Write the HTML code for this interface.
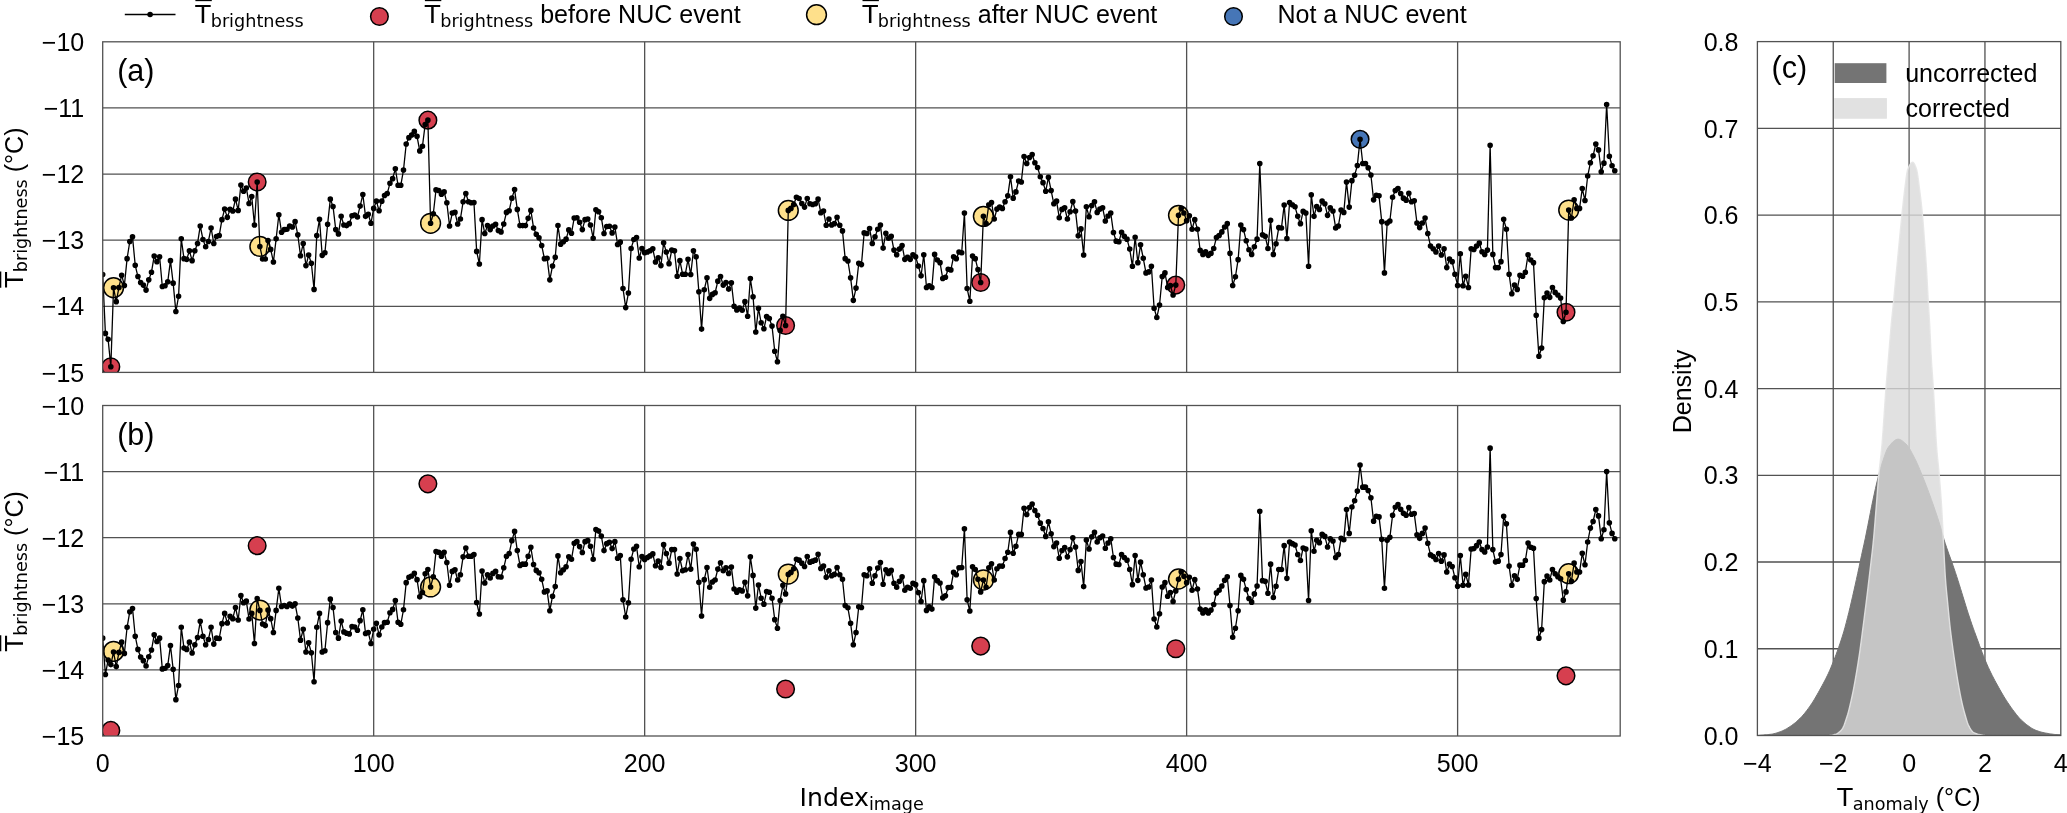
<!DOCTYPE html>
<html><head><meta charset="utf-8"><title>NUC correction</title><style>
html,body{margin:0;padding:0;background:#fff;}
svg{display:block;will-change:transform;}
text{fill:#000;}
.s{font-family:"Liberation Sans",sans-serif;font-size:25.05px;}
.d{font-family:"DejaVu Sans",sans-serif;font-size:25.2px;}
.sub{font-family:"DejaVu Sans",sans-serif;font-size:17.64px;}
</style></head><body>
<svg width="2067" height="813" viewBox="0 0 2067 813">
<rect x="0" y="0" width="2067" height="813" fill="#ffffff"/>
<defs>
<clipPath id="ca"><rect x="102.7" y="41.8" width="1517.50" height="330.60"/></clipPath>
<clipPath id="cb"><rect x="102.7" y="405.5" width="1517.50" height="330.50"/></clipPath>
<clipPath id="cc"><rect x="1757.4" y="41.6" width="303.40" height="693.90"/></clipPath>
</defs>
<path d="M373.68 41.8V372.4M644.66 41.8V372.4M915.65 41.8V372.4M1186.63 41.8V372.4M1457.61 41.8V372.4M102.7 107.92H1620.2M102.7 174.04H1620.2M102.7 240.16H1620.2M102.7 306.28H1620.2" stroke="#525252" stroke-width="1.3" fill="none"/>
<g clip-path="url(#ca)" stroke="#000" stroke-width="1.5">
<circle cx="110.83" cy="366.78" r="8.8" fill="#d63f4f"/>
<circle cx="257.16" cy="181.97" r="8.8" fill="#d63f4f"/>
<circle cx="427.88" cy="120.15" r="8.8" fill="#d63f4f"/>
<circle cx="785.58" cy="325.45" r="8.8" fill="#d63f4f"/>
<circle cx="980.68" cy="282.48" r="8.8" fill="#d63f4f"/>
<circle cx="1175.79" cy="285.12" r="8.8" fill="#d63f4f"/>
<circle cx="1566.00" cy="312.23" r="8.8" fill="#d63f4f"/>
<circle cx="113.54" cy="287.77" r="9.9" fill="#fee08b"/>
<circle cx="259.87" cy="246.44" r="9.9" fill="#fee08b"/>
<circle cx="430.59" cy="223.30" r="9.9" fill="#fee08b"/>
<circle cx="788.28" cy="210.41" r="9.9" fill="#fee08b"/>
<circle cx="983.39" cy="216.36" r="9.9" fill="#fee08b"/>
<circle cx="1178.50" cy="215.37" r="9.9" fill="#fee08b"/>
<circle cx="1568.71" cy="210.08" r="9.9" fill="#fee08b"/>
<circle cx="1360.06" cy="139.33" r="8.8" fill="#4676b7"/>
</g>
<g clip-path="url(#ca)">
<polyline points="102.70,274.54 105.41,333.39 108.12,339.34 110.83,366.78 113.54,287.77 116.25,301.65 118.96,287.44 121.67,275.20 124.38,285.45 127.09,258.67 129.80,241.48 132.51,236.85 135.22,265.29 137.93,276.53 140.64,282.48 143.35,285.12 146.06,290.08 148.77,279.83 151.48,272.23 154.19,256.03 156.90,261.65 159.61,256.69 162.32,286.44 165.03,285.78 167.74,281.82 170.45,260.66 173.16,283.14 175.87,311.57 178.57,296.36 181.28,238.84 183.99,258.67 186.70,259.33 189.41,250.74 192.12,260.66 194.83,250.74 197.54,243.47 200.25,225.94 202.96,239.50 205.67,246.77 208.38,241.48 211.09,227.93 213.80,243.47 216.51,236.52 219.22,235.53 221.93,219.66 224.64,209.08 227.35,217.35 230.06,209.41 232.77,211.07 235.48,199.17 238.19,210.41 240.90,184.95 243.61,191.23 246.32,187.93 249.03,203.46 251.74,196.52 254.45,224.95 257.16,181.97 259.87,246.44 262.58,259.00 265.29,259.00 268.00,240.49 270.71,249.42 273.42,261.98 276.13,238.84 278.84,214.70 281.55,232.23 284.26,229.58 286.97,229.25 289.68,225.94 292.39,226.94 295.10,221.65 297.81,234.87 300.52,255.70 303.23,243.47 305.94,265.62 308.65,255.04 311.36,263.30 314.07,289.42 316.78,235.53 319.49,219.33 322.20,255.37 324.91,252.72 327.62,224.29 330.32,199.17 333.03,206.44 335.74,229.58 338.45,233.88 341.16,216.36 343.87,224.95 346.58,225.61 349.29,223.63 352.00,215.70 354.71,215.03 357.42,217.02 360.13,206.11 362.84,194.54 365.55,216.36 368.26,214.37 370.97,223.30 373.68,208.42 376.39,201.15 379.10,210.74 381.81,201.15 384.52,195.53 387.23,193.55 389.94,183.30 392.65,178.67 395.36,168.75 398.07,185.28 400.78,185.28 403.49,170.07 406.20,143.96 408.91,137.67 411.62,135.03 414.33,131.39 417.04,136.35 419.75,150.90 422.46,146.27 425.17,124.45 427.88,120.15 430.59,223.30 433.30,213.71 436.01,189.91 438.72,190.57 441.43,194.21 444.14,191.89 446.85,202.80 449.56,225.94 452.27,213.05 454.98,212.39 457.69,223.96 460.40,219.00 463.11,201.81 465.82,193.55 468.53,201.81 471.24,202.80 473.95,202.47 476.66,251.40 479.37,263.96 482.07,219.66 484.78,233.55 487.49,225.61 490.20,229.58 492.91,225.94 495.62,224.29 498.33,230.57 501.04,231.89 503.75,223.96 506.46,212.39 509.17,210.74 511.88,198.17 514.59,189.58 517.30,209.41 520.01,225.61 522.72,225.61 525.43,225.61 528.14,218.34 530.85,210.41 533.56,227.93 536.27,234.21 538.98,237.85 541.69,245.45 544.40,258.67 547.11,258.34 549.82,279.83 552.53,265.95 555.24,257.35 557.95,225.61 560.66,244.13 563.37,241.81 566.08,239.17 568.79,229.91 571.50,233.22 574.21,218.01 576.92,217.68 579.63,222.31 582.34,229.58 585.05,219.66 587.76,219.00 590.47,224.95 593.18,238.18 595.89,209.74 598.60,211.73 601.31,217.68 604.02,233.55 606.73,226.61 609.44,226.27 612.15,232.89 614.86,226.94 617.57,244.46 620.28,242.14 622.99,288.43 625.70,307.60 628.41,293.06 631.12,248.43 633.83,239.50 636.53,237.52 639.24,258.01 641.95,248.43 644.66,252.72 647.37,252.06 650.08,250.74 652.79,248.76 655.50,261.98 658.21,257.68 660.92,265.62 663.63,242.80 666.34,252.06 669.05,263.63 671.76,250.08 674.47,250.74 677.18,276.20 679.89,260.66 682.60,274.21 685.31,274.21 688.02,259.33 690.73,274.54 693.44,250.74 696.15,256.69 698.86,291.73 701.57,329.09 704.28,289.75 706.99,277.85 709.70,298.35 712.41,294.38 715.12,292.73 717.83,281.15 720.54,276.53 723.25,285.12 725.96,282.48 728.67,289.09 731.38,282.81 734.09,306.28 736.80,309.92 739.51,307.93 742.22,310.25 744.93,301.65 747.64,316.20 750.35,278.51 753.06,296.69 755.77,332.07 758.48,308.26 761.19,322.81 763.90,328.76 766.61,316.53 769.32,318.51 772.03,326.12 774.74,351.24 777.45,361.82 780.16,330.41 782.87,316.20 785.58,325.45 788.28,210.41 790.99,208.42 793.70,204.46 796.41,197.18 799.12,198.50 801.83,203.46 804.54,207.10 807.25,198.50 809.96,203.79 812.67,204.46 815.38,203.79 818.09,199.17 820.80,212.72 823.51,211.07 826.22,225.28 828.93,219.00 831.64,224.95 834.35,223.63 837.06,217.35 839.77,225.28 842.48,230.90 845.19,258.67 847.90,260.99 850.61,277.85 853.32,300.33 856.03,288.10 858.74,263.30 861.45,264.62 864.16,232.89 866.87,233.55 869.58,228.59 872.29,243.47 875.00,236.85 877.71,229.25 880.42,224.95 883.13,248.09 885.84,233.22 888.55,238.18 891.26,236.19 893.97,250.08 896.68,254.71 899.39,249.09 902.10,245.45 904.81,259.33 907.52,257.35 910.23,259.33 912.94,254.71 915.65,256.69 918.36,265.95 921.07,275.86 923.78,254.71 926.49,287.44 929.20,285.78 931.91,287.44 934.62,254.38 937.33,260.00 940.03,262.64 942.74,278.51 945.45,277.19 948.16,269.25 950.87,269.91 953.58,256.69 956.29,258.67 959.00,252.06 961.71,252.72 964.42,213.05 967.13,288.43 969.84,301.32 972.55,256.03 975.26,258.67 977.97,269.58 980.68,282.48 983.39,216.36 986.10,223.63 988.81,204.79 991.52,202.47 994.23,219.00 996.94,209.08 999.65,207.10 1002.36,208.42 1005.07,201.81 1007.78,195.86 1010.49,176.68 1013.20,198.17 1015.91,191.89 1018.62,180.98 1021.33,181.97 1024.04,156.52 1026.75,163.46 1029.46,157.51 1032.17,154.53 1034.88,162.80 1037.59,167.43 1040.30,176.68 1043.01,182.64 1045.72,191.23 1048.43,177.35 1051.14,190.57 1053.85,203.79 1056.56,201.15 1059.27,217.68 1061.98,209.41 1064.69,207.76 1067.40,219.00 1070.11,211.73 1072.82,201.48 1075.53,211.07 1078.24,235.86 1080.95,228.92 1083.66,255.04 1086.37,206.77 1089.08,216.69 1091.78,205.45 1094.49,201.81 1097.20,212.39 1099.91,209.08 1102.62,207.76 1105.33,220.99 1108.04,216.03 1110.75,213.05 1113.46,232.56 1116.17,241.15 1118.88,241.81 1121.59,232.23 1124.30,236.19 1127.01,239.17 1129.72,249.09 1132.43,266.28 1135.14,237.18 1137.85,262.64 1140.56,244.79 1143.27,258.34 1145.98,272.89 1148.69,271.90 1151.40,266.28 1154.11,308.26 1156.82,317.52 1159.53,304.96 1162.24,276.53 1164.95,272.89 1167.66,287.44 1170.37,285.45 1173.08,295.04 1175.79,285.12 1178.50,215.37 1181.21,208.42 1183.92,213.05 1186.63,220.65 1189.34,215.70 1192.05,229.25 1194.76,219.66 1197.47,229.25 1200.18,250.41 1202.89,254.38 1205.60,251.73 1208.31,255.37 1211.02,253.38 1213.73,248.43 1216.44,237.52 1219.15,235.53 1221.86,231.89 1224.57,226.94 1227.28,223.63 1229.99,253.38 1232.70,285.45 1235.41,276.86 1238.12,259.67 1240.83,224.95 1243.53,229.58 1246.24,240.82 1248.95,249.75 1251.66,254.38 1254.37,246.77 1257.08,239.17 1259.79,163.46 1262.50,234.87 1265.21,236.19 1267.92,248.43 1270.63,220.32 1273.34,254.38 1276.05,243.80 1278.76,227.60 1281.47,227.93 1284.18,205.12 1286.89,238.51 1289.60,202.47 1292.31,204.79 1295.02,206.77 1297.73,216.36 1300.44,223.63 1303.15,211.40 1305.86,213.05 1308.57,266.28 1311.28,194.87 1313.99,216.36 1316.70,206.44 1319.41,209.41 1322.12,201.15 1324.83,203.79 1327.54,215.37 1330.25,207.76 1332.96,211.07 1335.67,227.93 1338.38,225.94 1341.09,210.08 1343.80,212.39 1346.51,181.97 1349.22,207.10 1351.93,180.65 1354.64,175.36 1357.35,165.44 1360.06,139.33 1362.77,163.46 1365.48,163.46 1368.19,167.76 1370.90,175.03 1373.61,199.83 1376.32,195.20 1379.03,195.86 1381.74,221.65 1384.45,272.89 1387.16,222.97 1389.87,220.99 1392.58,197.18 1395.28,190.57 1397.99,188.59 1400.70,193.55 1403.41,198.17 1406.12,200.16 1408.83,193.21 1411.54,201.81 1414.25,200.82 1416.96,222.97 1419.67,227.60 1422.38,222.97 1425.09,218.01 1427.80,233.55 1430.51,246.11 1433.22,248.76 1435.93,252.06 1438.64,246.11 1441.35,255.04 1444.06,248.76 1446.77,267.60 1449.48,259.00 1452.19,261.65 1454.90,274.21 1457.61,285.45 1460.32,253.71 1463.03,285.78 1465.74,276.20 1468.45,287.44 1471.16,248.76 1473.87,249.42 1476.58,246.11 1479.29,243.14 1482.00,251.73 1484.71,254.38 1487.42,250.08 1490.13,145.28 1492.84,254.38 1495.55,267.60 1498.26,267.60 1500.97,261.65 1503.68,219.33 1506.39,229.25 1509.10,274.21 1511.81,293.72 1514.52,285.12 1517.23,289.42 1519.94,275.20 1522.65,276.20 1525.36,272.23 1528.07,254.71 1530.78,260.00 1533.49,262.64 1536.20,315.21 1538.91,356.20 1541.62,347.94 1544.33,297.68 1547.03,293.06 1549.74,297.35 1552.45,287.44 1555.16,292.39 1557.87,295.04 1560.58,298.01 1563.29,321.49 1566.00,312.23 1568.71,210.08 1571.42,218.01 1574.13,199.83 1576.84,208.42 1579.55,208.42 1582.26,188.59 1584.97,200.49 1587.68,176.02 1590.39,162.80 1593.10,155.86 1595.81,143.96 1598.52,149.91 1601.23,171.73 1603.94,163.13 1606.65,104.61 1609.36,156.19 1612.07,165.77 1614.78,170.73" fill="none" stroke="#000" stroke-width="1.3" stroke-linejoin="round"/>
<path d="M102.70 274.54h0M105.41 333.39h0M108.12 339.34h0M110.83 366.78h0M113.54 287.77h0M116.25 301.65h0M118.96 287.44h0M121.67 275.20h0M124.38 285.45h0M127.09 258.67h0M129.80 241.48h0M132.51 236.85h0M135.22 265.29h0M137.93 276.53h0M140.64 282.48h0M143.35 285.12h0M146.06 290.08h0M148.77 279.83h0M151.48 272.23h0M154.19 256.03h0M156.90 261.65h0M159.61 256.69h0M162.32 286.44h0M165.03 285.78h0M167.74 281.82h0M170.45 260.66h0M173.16 283.14h0M175.87 311.57h0M178.57 296.36h0M181.28 238.84h0M183.99 258.67h0M186.70 259.33h0M189.41 250.74h0M192.12 260.66h0M194.83 250.74h0M197.54 243.47h0M200.25 225.94h0M202.96 239.50h0M205.67 246.77h0M208.38 241.48h0M211.09 227.93h0M213.80 243.47h0M216.51 236.52h0M219.22 235.53h0M221.93 219.66h0M224.64 209.08h0M227.35 217.35h0M230.06 209.41h0M232.77 211.07h0M235.48 199.17h0M238.19 210.41h0M240.90 184.95h0M243.61 191.23h0M246.32 187.93h0M249.03 203.46h0M251.74 196.52h0M254.45 224.95h0M257.16 181.97h0M259.87 246.44h0M262.58 259.00h0M265.29 259.00h0M268.00 240.49h0M270.71 249.42h0M273.42 261.98h0M276.13 238.84h0M278.84 214.70h0M281.55 232.23h0M284.26 229.58h0M286.97 229.25h0M289.68 225.94h0M292.39 226.94h0M295.10 221.65h0M297.81 234.87h0M300.52 255.70h0M303.23 243.47h0M305.94 265.62h0M308.65 255.04h0M311.36 263.30h0M314.07 289.42h0M316.78 235.53h0M319.49 219.33h0M322.20 255.37h0M324.91 252.72h0M327.62 224.29h0M330.32 199.17h0M333.03 206.44h0M335.74 229.58h0M338.45 233.88h0M341.16 216.36h0M343.87 224.95h0M346.58 225.61h0M349.29 223.63h0M352.00 215.70h0M354.71 215.03h0M357.42 217.02h0M360.13 206.11h0M362.84 194.54h0M365.55 216.36h0M368.26 214.37h0M370.97 223.30h0M373.68 208.42h0M376.39 201.15h0M379.10 210.74h0M381.81 201.15h0M384.52 195.53h0M387.23 193.55h0M389.94 183.30h0M392.65 178.67h0M395.36 168.75h0M398.07 185.28h0M400.78 185.28h0M403.49 170.07h0M406.20 143.96h0M408.91 137.67h0M411.62 135.03h0M414.33 131.39h0M417.04 136.35h0M419.75 150.90h0M422.46 146.27h0M425.17 124.45h0M427.88 120.15h0M430.59 223.30h0M433.30 213.71h0M436.01 189.91h0M438.72 190.57h0M441.43 194.21h0M444.14 191.89h0M446.85 202.80h0M449.56 225.94h0M452.27 213.05h0M454.98 212.39h0M457.69 223.96h0M460.40 219.00h0M463.11 201.81h0M465.82 193.55h0M468.53 201.81h0M471.24 202.80h0M473.95 202.47h0M476.66 251.40h0M479.37 263.96h0M482.07 219.66h0M484.78 233.55h0M487.49 225.61h0M490.20 229.58h0M492.91 225.94h0M495.62 224.29h0M498.33 230.57h0M501.04 231.89h0M503.75 223.96h0M506.46 212.39h0M509.17 210.74h0M511.88 198.17h0M514.59 189.58h0M517.30 209.41h0M520.01 225.61h0M522.72 225.61h0M525.43 225.61h0M528.14 218.34h0M530.85 210.41h0M533.56 227.93h0M536.27 234.21h0M538.98 237.85h0M541.69 245.45h0M544.40 258.67h0M547.11 258.34h0M549.82 279.83h0M552.53 265.95h0M555.24 257.35h0M557.95 225.61h0M560.66 244.13h0M563.37 241.81h0M566.08 239.17h0M568.79 229.91h0M571.50 233.22h0M574.21 218.01h0M576.92 217.68h0M579.63 222.31h0M582.34 229.58h0M585.05 219.66h0M587.76 219.00h0M590.47 224.95h0M593.18 238.18h0M595.89 209.74h0M598.60 211.73h0M601.31 217.68h0M604.02 233.55h0M606.73 226.61h0M609.44 226.27h0M612.15 232.89h0M614.86 226.94h0M617.57 244.46h0M620.28 242.14h0M622.99 288.43h0M625.70 307.60h0M628.41 293.06h0M631.12 248.43h0M633.83 239.50h0M636.53 237.52h0M639.24 258.01h0M641.95 248.43h0M644.66 252.72h0M647.37 252.06h0M650.08 250.74h0M652.79 248.76h0M655.50 261.98h0M658.21 257.68h0M660.92 265.62h0M663.63 242.80h0M666.34 252.06h0M669.05 263.63h0M671.76 250.08h0M674.47 250.74h0M677.18 276.20h0M679.89 260.66h0M682.60 274.21h0M685.31 274.21h0M688.02 259.33h0M690.73 274.54h0M693.44 250.74h0M696.15 256.69h0M698.86 291.73h0M701.57 329.09h0M704.28 289.75h0M706.99 277.85h0M709.70 298.35h0M712.41 294.38h0M715.12 292.73h0M717.83 281.15h0M720.54 276.53h0M723.25 285.12h0M725.96 282.48h0M728.67 289.09h0M731.38 282.81h0M734.09 306.28h0M736.80 309.92h0M739.51 307.93h0M742.22 310.25h0M744.93 301.65h0M747.64 316.20h0M750.35 278.51h0M753.06 296.69h0M755.77 332.07h0M758.48 308.26h0M761.19 322.81h0M763.90 328.76h0M766.61 316.53h0M769.32 318.51h0M772.03 326.12h0M774.74 351.24h0M777.45 361.82h0M780.16 330.41h0M782.87 316.20h0M785.58 325.45h0M788.28 210.41h0M790.99 208.42h0M793.70 204.46h0M796.41 197.18h0M799.12 198.50h0M801.83 203.46h0M804.54 207.10h0M807.25 198.50h0M809.96 203.79h0M812.67 204.46h0M815.38 203.79h0M818.09 199.17h0M820.80 212.72h0M823.51 211.07h0M826.22 225.28h0M828.93 219.00h0M831.64 224.95h0M834.35 223.63h0M837.06 217.35h0M839.77 225.28h0M842.48 230.90h0M845.19 258.67h0M847.90 260.99h0M850.61 277.85h0M853.32 300.33h0M856.03 288.10h0M858.74 263.30h0M861.45 264.62h0M864.16 232.89h0M866.87 233.55h0M869.58 228.59h0M872.29 243.47h0M875.00 236.85h0M877.71 229.25h0M880.42 224.95h0M883.13 248.09h0M885.84 233.22h0M888.55 238.18h0M891.26 236.19h0M893.97 250.08h0M896.68 254.71h0M899.39 249.09h0M902.10 245.45h0M904.81 259.33h0M907.52 257.35h0M910.23 259.33h0M912.94 254.71h0M915.65 256.69h0M918.36 265.95h0M921.07 275.86h0M923.78 254.71h0M926.49 287.44h0M929.20 285.78h0M931.91 287.44h0M934.62 254.38h0M937.33 260.00h0M940.03 262.64h0M942.74 278.51h0M945.45 277.19h0M948.16 269.25h0M950.87 269.91h0M953.58 256.69h0M956.29 258.67h0M959.00 252.06h0M961.71 252.72h0M964.42 213.05h0M967.13 288.43h0M969.84 301.32h0M972.55 256.03h0M975.26 258.67h0M977.97 269.58h0M980.68 282.48h0M983.39 216.36h0M986.10 223.63h0M988.81 204.79h0M991.52 202.47h0M994.23 219.00h0M996.94 209.08h0M999.65 207.10h0M1002.36 208.42h0M1005.07 201.81h0M1007.78 195.86h0M1010.49 176.68h0M1013.20 198.17h0M1015.91 191.89h0M1018.62 180.98h0M1021.33 181.97h0M1024.04 156.52h0M1026.75 163.46h0M1029.46 157.51h0M1032.17 154.53h0M1034.88 162.80h0M1037.59 167.43h0M1040.30 176.68h0M1043.01 182.64h0M1045.72 191.23h0M1048.43 177.35h0M1051.14 190.57h0M1053.85 203.79h0M1056.56 201.15h0M1059.27 217.68h0M1061.98 209.41h0M1064.69 207.76h0M1067.40 219.00h0M1070.11 211.73h0M1072.82 201.48h0M1075.53 211.07h0M1078.24 235.86h0M1080.95 228.92h0M1083.66 255.04h0M1086.37 206.77h0M1089.08 216.69h0M1091.78 205.45h0M1094.49 201.81h0M1097.20 212.39h0M1099.91 209.08h0M1102.62 207.76h0M1105.33 220.99h0M1108.04 216.03h0M1110.75 213.05h0M1113.46 232.56h0M1116.17 241.15h0M1118.88 241.81h0M1121.59 232.23h0M1124.30 236.19h0M1127.01 239.17h0M1129.72 249.09h0M1132.43 266.28h0M1135.14 237.18h0M1137.85 262.64h0M1140.56 244.79h0M1143.27 258.34h0M1145.98 272.89h0M1148.69 271.90h0M1151.40 266.28h0M1154.11 308.26h0M1156.82 317.52h0M1159.53 304.96h0M1162.24 276.53h0M1164.95 272.89h0M1167.66 287.44h0M1170.37 285.45h0M1173.08 295.04h0M1175.79 285.12h0M1178.50 215.37h0M1181.21 208.42h0M1183.92 213.05h0M1186.63 220.65h0M1189.34 215.70h0M1192.05 229.25h0M1194.76 219.66h0M1197.47 229.25h0M1200.18 250.41h0M1202.89 254.38h0M1205.60 251.73h0M1208.31 255.37h0M1211.02 253.38h0M1213.73 248.43h0M1216.44 237.52h0M1219.15 235.53h0M1221.86 231.89h0M1224.57 226.94h0M1227.28 223.63h0M1229.99 253.38h0M1232.70 285.45h0M1235.41 276.86h0M1238.12 259.67h0M1240.83 224.95h0M1243.53 229.58h0M1246.24 240.82h0M1248.95 249.75h0M1251.66 254.38h0M1254.37 246.77h0M1257.08 239.17h0M1259.79 163.46h0M1262.50 234.87h0M1265.21 236.19h0M1267.92 248.43h0M1270.63 220.32h0M1273.34 254.38h0M1276.05 243.80h0M1278.76 227.60h0M1281.47 227.93h0M1284.18 205.12h0M1286.89 238.51h0M1289.60 202.47h0M1292.31 204.79h0M1295.02 206.77h0M1297.73 216.36h0M1300.44 223.63h0M1303.15 211.40h0M1305.86 213.05h0M1308.57 266.28h0M1311.28 194.87h0M1313.99 216.36h0M1316.70 206.44h0M1319.41 209.41h0M1322.12 201.15h0M1324.83 203.79h0M1327.54 215.37h0M1330.25 207.76h0M1332.96 211.07h0M1335.67 227.93h0M1338.38 225.94h0M1341.09 210.08h0M1343.80 212.39h0M1346.51 181.97h0M1349.22 207.10h0M1351.93 180.65h0M1354.64 175.36h0M1357.35 165.44h0M1360.06 139.33h0M1362.77 163.46h0M1365.48 163.46h0M1368.19 167.76h0M1370.90 175.03h0M1373.61 199.83h0M1376.32 195.20h0M1379.03 195.86h0M1381.74 221.65h0M1384.45 272.89h0M1387.16 222.97h0M1389.87 220.99h0M1392.58 197.18h0M1395.28 190.57h0M1397.99 188.59h0M1400.70 193.55h0M1403.41 198.17h0M1406.12 200.16h0M1408.83 193.21h0M1411.54 201.81h0M1414.25 200.82h0M1416.96 222.97h0M1419.67 227.60h0M1422.38 222.97h0M1425.09 218.01h0M1427.80 233.55h0M1430.51 246.11h0M1433.22 248.76h0M1435.93 252.06h0M1438.64 246.11h0M1441.35 255.04h0M1444.06 248.76h0M1446.77 267.60h0M1449.48 259.00h0M1452.19 261.65h0M1454.90 274.21h0M1457.61 285.45h0M1460.32 253.71h0M1463.03 285.78h0M1465.74 276.20h0M1468.45 287.44h0M1471.16 248.76h0M1473.87 249.42h0M1476.58 246.11h0M1479.29 243.14h0M1482.00 251.73h0M1484.71 254.38h0M1487.42 250.08h0M1490.13 145.28h0M1492.84 254.38h0M1495.55 267.60h0M1498.26 267.60h0M1500.97 261.65h0M1503.68 219.33h0M1506.39 229.25h0M1509.10 274.21h0M1511.81 293.72h0M1514.52 285.12h0M1517.23 289.42h0M1519.94 275.20h0M1522.65 276.20h0M1525.36 272.23h0M1528.07 254.71h0M1530.78 260.00h0M1533.49 262.64h0M1536.20 315.21h0M1538.91 356.20h0M1541.62 347.94h0M1544.33 297.68h0M1547.03 293.06h0M1549.74 297.35h0M1552.45 287.44h0M1555.16 292.39h0M1557.87 295.04h0M1560.58 298.01h0M1563.29 321.49h0M1566.00 312.23h0M1568.71 210.08h0M1571.42 218.01h0M1574.13 199.83h0M1576.84 208.42h0M1579.55 208.42h0M1582.26 188.59h0M1584.97 200.49h0M1587.68 176.02h0M1590.39 162.80h0M1593.10 155.86h0M1595.81 143.96h0M1598.52 149.91h0M1601.23 171.73h0M1603.94 163.13h0M1606.65 104.61h0M1609.36 156.19h0M1612.07 165.77h0M1614.78 170.73h0" stroke="#000" stroke-width="5.6" stroke-linecap="round" fill="none"/>
</g>
<rect x="102.7" y="41.8" width="1517.50" height="330.60" fill="none" stroke="#525252" stroke-width="1.3"/>
<text x="84.3" y="381.60" text-anchor="end" class="s">−15</text>
<text x="84.3" y="315.48" text-anchor="end" class="s">−14</text>
<text x="84.3" y="249.36" text-anchor="end" class="s">−13</text>
<text x="84.3" y="183.24" text-anchor="end" class="s">−12</text>
<text x="84.3" y="117.12" text-anchor="end" class="s">−11</text>
<text x="84.3" y="51.00" text-anchor="end" class="s">−10</text>
<text x="117.2" y="80.90" class="s" style="font-size:30.5px">(a)</text>
<g transform="translate(22.8 287.60) rotate(-90)">
<text x="0" y="0" class="d">T<tspan class="sub" dy="4.2">brightness</tspan><tspan class="s" dy="-4.2"> (°C)</tspan></text>
<path d="M-0.1 -22.3H16.1" stroke="#000" stroke-width="1.6"/>
</g>
<path d="M373.68 405.5V736.0M644.66 405.5V736.0M915.65 405.5V736.0M1186.63 405.5V736.0M1457.61 405.5V736.0M102.7 471.60H1620.2M102.7 537.70H1620.2M102.7 603.80H1620.2M102.7 669.90H1620.2" stroke="#525252" stroke-width="1.3" fill="none"/>
<g clip-path="url(#cb)" stroke="#000" stroke-width="1.5">
<circle cx="110.83" cy="730.38" r="8.8" fill="#d63f4f"/>
<circle cx="257.16" cy="545.63" r="8.8" fill="#d63f4f"/>
<circle cx="427.88" cy="483.83" r="8.8" fill="#d63f4f"/>
<circle cx="785.58" cy="689.07" r="8.8" fill="#d63f4f"/>
<circle cx="980.68" cy="646.10" r="8.8" fill="#d63f4f"/>
<circle cx="1175.79" cy="648.75" r="8.8" fill="#d63f4f"/>
<circle cx="1566.00" cy="675.85" r="8.8" fill="#d63f4f"/>
<circle cx="113.54" cy="651.39" r="9.9" fill="#fee08b"/>
<circle cx="259.87" cy="610.08" r="9.9" fill="#fee08b"/>
<circle cx="430.59" cy="586.94" r="9.9" fill="#fee08b"/>
<circle cx="788.28" cy="574.06" r="9.9" fill="#fee08b"/>
<circle cx="983.39" cy="580.00" r="9.9" fill="#fee08b"/>
<circle cx="1178.50" cy="579.01" r="9.9" fill="#fee08b"/>
<circle cx="1568.71" cy="573.72" r="9.9" fill="#fee08b"/>
</g>
<g clip-path="url(#cb)">
<polyline points="102.70,638.17 105.41,674.53 108.12,659.99 110.83,664.61 113.54,652.05 116.25,666.59 118.96,652.38 121.67,642.14 124.38,653.38 127.09,627.27 129.80,611.73 132.51,608.43 135.22,636.19 137.93,649.41 140.64,657.01 143.35,660.65 146.06,665.93 148.77,656.68 151.48,650.07 154.19,634.87 156.90,641.48 159.61,638.17 162.32,668.91 165.03,668.25 167.74,665.60 170.45,645.44 173.16,669.24 175.87,699.64 178.57,685.43 181.28,627.27 183.99,648.09 186.70,649.41 189.41,642.14 192.12,653.04 194.83,644.78 197.54,637.51 200.25,621.32 202.96,636.19 205.67,644.78 208.38,639.49 211.09,627.27 213.80,644.12 216.51,638.17 219.22,638.50 221.93,623.63 224.64,613.38 227.35,622.97 230.06,616.36 232.77,618.67 235.48,607.44 238.19,619.99 240.90,595.54 243.61,602.81 246.32,601.16 249.03,619.00 251.74,613.38 254.45,643.46 257.16,598.51 259.87,610.41 262.58,623.96 265.29,625.61 268.00,610.08 270.71,618.67 273.42,632.55 276.13,610.41 278.84,588.27 281.55,606.44 284.26,605.45 286.97,606.44 289.68,604.13 292.39,606.11 295.10,603.80 297.81,618.01 300.52,640.16 303.23,629.25 305.94,652.05 308.65,642.80 311.36,652.71 314.07,681.80 316.78,627.27 319.49,613.38 322.20,652.05 324.91,650.73 327.62,622.64 330.32,599.17 333.03,607.44 335.74,632.55 338.45,638.17 341.16,620.99 343.87,631.89 346.58,633.21 349.29,633.88 352.00,626.60 354.71,626.93 357.42,630.24 360.13,620.66 362.84,609.75 365.55,633.54 368.26,632.55 370.97,643.46 373.68,629.25 376.39,623.30 379.10,634.87 381.81,626.93 384.52,622.64 387.23,622.31 389.94,612.72 392.65,609.42 395.36,600.49 398.07,622.31 400.78,624.29 403.49,609.75 406.20,582.65 408.91,577.36 411.62,576.04 414.33,573.39 417.04,579.67 419.75,596.86 422.46,592.56 425.17,573.72 427.88,569.43 430.59,586.94 433.30,576.70 436.01,551.58 438.72,552.24 441.43,556.21 444.14,552.24 446.85,562.49 449.56,585.29 452.27,571.41 454.98,569.76 457.69,580.00 460.40,574.72 463.11,556.87 465.82,547.95 468.53,556.21 471.24,556.21 473.95,554.56 476.66,602.48 479.37,614.05 482.07,571.08 484.78,582.98 487.49,574.72 490.20,578.02 492.91,573.39 495.62,571.41 498.33,576.70 501.04,577.03 503.75,567.78 506.46,556.21 509.17,553.56 511.88,540.67 514.59,531.42 517.30,550.59 520.01,565.46 522.72,564.14 525.43,564.14 528.14,556.21 530.85,547.28 533.56,564.47 536.27,570.42 538.98,572.73 541.69,579.34 544.40,591.90 547.11,590.91 549.82,610.74 552.53,596.20 555.24,586.61 557.95,555.88 560.66,572.73 563.37,569.76 566.08,566.78 568.79,556.87 571.50,559.18 574.21,543.32 576.92,541.67 579.63,546.62 582.34,552.57 585.05,541.67 587.76,540.67 590.47,546.29 593.18,559.18 595.89,529.44 598.60,531.09 601.31,536.05 604.02,550.59 606.73,543.65 609.44,542.33 612.15,548.61 614.86,541.67 617.57,558.19 620.28,555.55 622.99,599.83 625.70,617.02 628.41,602.81 631.12,559.18 633.83,548.94 636.53,546.29 639.24,566.78 641.95,556.54 644.66,559.51 647.37,557.53 650.08,555.88 652.79,553.89 655.50,565.79 658.21,561.17 660.92,567.44 663.63,544.64 666.34,553.56 669.05,563.15 671.76,549.60 674.47,549.60 677.18,574.06 679.89,558.52 682.60,570.75 685.31,569.76 688.02,554.56 690.73,569.10 693.44,543.98 696.15,549.27 698.86,582.32 701.57,616.03 704.28,579.67 706.99,567.44 709.70,587.27 712.41,581.99 715.12,580.00 717.83,569.10 720.54,562.82 723.25,570.75 725.96,567.78 728.67,573.39 731.38,567.11 734.09,588.93 736.80,592.23 739.51,589.92 742.22,590.91 744.93,582.32 747.64,595.87 750.35,556.87 753.06,575.38 755.77,608.10 758.48,584.96 761.19,598.18 763.90,604.13 766.61,591.57 769.32,592.23 772.03,598.18 774.74,619.66 777.45,628.26 780.16,600.49 782.87,585.29 785.58,593.88 788.28,574.39 790.99,572.40 793.70,568.77 796.41,559.18 799.12,560.17 801.83,563.15 804.54,566.45 807.25,556.54 809.96,562.16 812.67,561.17 815.38,560.17 818.09,554.23 820.80,568.44 823.51,566.12 826.22,577.36 828.93,570.75 831.64,575.71 834.35,574.39 837.06,567.44 839.77,574.72 842.48,579.34 845.19,605.45 847.90,607.77 850.61,623.30 853.32,644.78 856.03,632.55 858.74,606.77 861.45,607.44 864.16,574.72 866.87,575.71 869.58,568.77 872.29,583.31 875.00,575.71 877.71,568.11 880.42,562.49 883.13,584.30 885.84,569.76 888.55,573.39 891.26,570.42 893.97,583.31 896.68,587.27 899.39,581.33 902.10,576.70 904.81,590.25 907.52,587.27 910.23,588.27 912.94,583.31 915.65,584.63 918.36,592.56 921.07,601.49 923.78,580.66 926.49,610.41 929.20,606.77 931.91,609.09 934.62,576.70 937.33,580.66 940.03,582.98 942.74,597.85 945.45,595.87 948.16,587.61 950.87,587.27 953.58,572.40 956.29,574.72 959.00,567.78 961.71,567.44 964.42,528.78 967.13,599.83 969.84,611.07 972.55,566.78 975.26,569.43 977.97,579.34 980.68,591.90 983.39,580.00 986.10,587.27 988.81,567.78 991.52,563.81 994.23,580.00 996.94,568.77 999.65,566.12 1002.36,566.12 1005.07,558.52 1007.78,552.24 1010.49,532.41 1013.20,553.23 1015.91,546.29 1018.62,534.39 1021.33,534.39 1024.04,508.29 1026.75,514.57 1029.46,507.62 1032.17,503.99 1034.88,510.60 1037.59,515.23 1040.30,523.16 1043.01,528.45 1045.72,536.38 1048.43,521.84 1051.14,533.73 1053.85,546.62 1056.56,542.99 1059.27,558.19 1061.98,550.59 1064.69,547.62 1067.40,556.87 1070.11,549.60 1072.82,537.70 1075.53,546.95 1078.24,570.42 1080.95,561.50 1083.66,586.61 1086.37,540.01 1089.08,548.94 1091.78,536.71 1094.49,532.41 1097.20,542.00 1099.91,537.70 1102.62,536.05 1105.33,548.28 1108.04,542.99 1110.75,538.69 1113.46,557.53 1116.17,564.14 1118.88,564.47 1121.59,554.56 1124.30,557.53 1127.01,560.17 1129.72,569.43 1132.43,584.63 1135.14,555.55 1137.85,580.33 1140.56,562.16 1143.27,574.72 1145.98,587.94 1148.69,586.94 1151.40,580.00 1154.11,619.00 1156.82,626.93 1159.53,613.72 1162.24,586.94 1164.95,582.65 1167.66,596.20 1170.37,592.56 1173.08,601.49 1175.79,590.91 1178.50,579.34 1181.21,571.74 1183.92,576.37 1186.63,582.65 1189.34,577.36 1192.05,590.25 1194.76,579.67 1197.47,588.93 1200.18,609.09 1202.89,613.05 1205.60,609.75 1208.31,613.05 1211.02,610.08 1213.73,604.46 1216.44,592.89 1219.15,590.25 1221.86,585.95 1224.57,580.33 1227.28,576.70 1229.99,605.45 1232.70,637.18 1235.41,628.26 1238.12,610.74 1240.83,575.38 1243.53,579.34 1246.24,589.59 1248.95,598.51 1251.66,602.15 1254.37,593.88 1257.08,585.95 1259.79,511.26 1262.50,580.66 1265.21,581.33 1267.92,593.22 1270.63,564.14 1273.34,597.52 1276.05,586.28 1278.76,569.43 1281.47,569.43 1284.18,545.63 1286.89,578.35 1289.60,542.00 1292.31,543.65 1295.02,544.97 1297.73,554.56 1300.44,560.50 1303.15,547.95 1305.86,548.94 1308.57,600.49 1311.28,530.76 1313.99,551.25 1316.70,540.34 1319.41,542.66 1322.12,534.39 1324.83,536.38 1327.54,546.95 1330.25,538.69 1332.96,541.01 1335.67,557.53 1338.38,554.56 1341.09,538.36 1343.80,539.68 1346.51,509.61 1349.22,533.40 1351.93,506.96 1354.64,500.68 1357.35,491.10 1360.06,464.99 1362.77,487.13 1365.48,487.13 1368.19,490.44 1370.90,497.71 1373.61,521.17 1376.32,516.22 1379.03,516.88 1381.74,539.35 1384.45,588.27 1387.16,540.34 1389.87,537.37 1392.58,515.23 1395.28,507.29 1397.99,504.65 1400.70,509.28 1403.41,513.24 1406.12,515.23 1408.83,507.62 1411.54,514.23 1414.25,513.57 1416.96,534.73 1419.67,538.36 1422.38,533.40 1425.09,528.12 1427.80,543.32 1430.51,554.89 1433.22,556.54 1435.93,559.51 1438.64,553.56 1441.35,561.17 1444.06,554.89 1446.77,572.07 1449.48,564.14 1452.19,566.45 1454.90,577.69 1457.61,586.28 1460.32,555.55 1463.03,585.29 1465.74,574.39 1468.45,584.96 1471.16,548.94 1473.87,548.61 1476.58,545.63 1479.29,542.00 1482.00,549.60 1484.71,551.91 1487.42,546.95 1490.13,448.13 1492.84,549.60 1495.55,561.83 1498.26,561.17 1500.97,554.56 1503.68,516.22 1506.39,523.82 1509.10,566.12 1511.81,585.29 1514.52,575.71 1517.23,579.34 1519.94,565.13 1522.65,565.13 1525.36,560.50 1528.07,542.99 1530.78,547.28 1533.49,548.28 1536.20,598.51 1538.91,638.17 1541.62,629.58 1544.33,581.66 1547.03,576.04 1549.74,580.00 1552.45,569.43 1555.16,573.72 1557.87,576.70 1560.58,578.68 1563.29,600.16 1566.00,591.90 1568.71,573.72 1571.42,581.33 1574.13,563.15 1576.84,572.07 1579.55,572.07 1582.26,553.23 1584.97,564.80 1587.68,542.00 1590.39,528.12 1593.10,521.51 1595.81,509.61 1598.52,515.89 1601.23,538.69 1603.94,529.77 1606.65,471.60 1609.36,522.83 1612.07,533.40 1614.78,538.69" fill="none" stroke="#000" stroke-width="1.3" stroke-linejoin="round"/>
<path d="M102.70 638.17h0M105.41 674.53h0M108.12 659.99h0M110.83 664.61h0M113.54 652.05h0M116.25 666.59h0M118.96 652.38h0M121.67 642.14h0M124.38 653.38h0M127.09 627.27h0M129.80 611.73h0M132.51 608.43h0M135.22 636.19h0M137.93 649.41h0M140.64 657.01h0M143.35 660.65h0M146.06 665.93h0M148.77 656.68h0M151.48 650.07h0M154.19 634.87h0M156.90 641.48h0M159.61 638.17h0M162.32 668.91h0M165.03 668.25h0M167.74 665.60h0M170.45 645.44h0M173.16 669.24h0M175.87 699.64h0M178.57 685.43h0M181.28 627.27h0M183.99 648.09h0M186.70 649.41h0M189.41 642.14h0M192.12 653.04h0M194.83 644.78h0M197.54 637.51h0M200.25 621.32h0M202.96 636.19h0M205.67 644.78h0M208.38 639.49h0M211.09 627.27h0M213.80 644.12h0M216.51 638.17h0M219.22 638.50h0M221.93 623.63h0M224.64 613.38h0M227.35 622.97h0M230.06 616.36h0M232.77 618.67h0M235.48 607.44h0M238.19 619.99h0M240.90 595.54h0M243.61 602.81h0M246.32 601.16h0M249.03 619.00h0M251.74 613.38h0M254.45 643.46h0M257.16 598.51h0M259.87 610.41h0M262.58 623.96h0M265.29 625.61h0M268.00 610.08h0M270.71 618.67h0M273.42 632.55h0M276.13 610.41h0M278.84 588.27h0M281.55 606.44h0M284.26 605.45h0M286.97 606.44h0M289.68 604.13h0M292.39 606.11h0M295.10 603.80h0M297.81 618.01h0M300.52 640.16h0M303.23 629.25h0M305.94 652.05h0M308.65 642.80h0M311.36 652.71h0M314.07 681.80h0M316.78 627.27h0M319.49 613.38h0M322.20 652.05h0M324.91 650.73h0M327.62 622.64h0M330.32 599.17h0M333.03 607.44h0M335.74 632.55h0M338.45 638.17h0M341.16 620.99h0M343.87 631.89h0M346.58 633.21h0M349.29 633.88h0M352.00 626.60h0M354.71 626.93h0M357.42 630.24h0M360.13 620.66h0M362.84 609.75h0M365.55 633.54h0M368.26 632.55h0M370.97 643.46h0M373.68 629.25h0M376.39 623.30h0M379.10 634.87h0M381.81 626.93h0M384.52 622.64h0M387.23 622.31h0M389.94 612.72h0M392.65 609.42h0M395.36 600.49h0M398.07 622.31h0M400.78 624.29h0M403.49 609.75h0M406.20 582.65h0M408.91 577.36h0M411.62 576.04h0M414.33 573.39h0M417.04 579.67h0M419.75 596.86h0M422.46 592.56h0M425.17 573.72h0M427.88 569.43h0M430.59 586.94h0M433.30 576.70h0M436.01 551.58h0M438.72 552.24h0M441.43 556.21h0M444.14 552.24h0M446.85 562.49h0M449.56 585.29h0M452.27 571.41h0M454.98 569.76h0M457.69 580.00h0M460.40 574.72h0M463.11 556.87h0M465.82 547.95h0M468.53 556.21h0M471.24 556.21h0M473.95 554.56h0M476.66 602.48h0M479.37 614.05h0M482.07 571.08h0M484.78 582.98h0M487.49 574.72h0M490.20 578.02h0M492.91 573.39h0M495.62 571.41h0M498.33 576.70h0M501.04 577.03h0M503.75 567.78h0M506.46 556.21h0M509.17 553.56h0M511.88 540.67h0M514.59 531.42h0M517.30 550.59h0M520.01 565.46h0M522.72 564.14h0M525.43 564.14h0M528.14 556.21h0M530.85 547.28h0M533.56 564.47h0M536.27 570.42h0M538.98 572.73h0M541.69 579.34h0M544.40 591.90h0M547.11 590.91h0M549.82 610.74h0M552.53 596.20h0M555.24 586.61h0M557.95 555.88h0M560.66 572.73h0M563.37 569.76h0M566.08 566.78h0M568.79 556.87h0M571.50 559.18h0M574.21 543.32h0M576.92 541.67h0M579.63 546.62h0M582.34 552.57h0M585.05 541.67h0M587.76 540.67h0M590.47 546.29h0M593.18 559.18h0M595.89 529.44h0M598.60 531.09h0M601.31 536.05h0M604.02 550.59h0M606.73 543.65h0M609.44 542.33h0M612.15 548.61h0M614.86 541.67h0M617.57 558.19h0M620.28 555.55h0M622.99 599.83h0M625.70 617.02h0M628.41 602.81h0M631.12 559.18h0M633.83 548.94h0M636.53 546.29h0M639.24 566.78h0M641.95 556.54h0M644.66 559.51h0M647.37 557.53h0M650.08 555.88h0M652.79 553.89h0M655.50 565.79h0M658.21 561.17h0M660.92 567.44h0M663.63 544.64h0M666.34 553.56h0M669.05 563.15h0M671.76 549.60h0M674.47 549.60h0M677.18 574.06h0M679.89 558.52h0M682.60 570.75h0M685.31 569.76h0M688.02 554.56h0M690.73 569.10h0M693.44 543.98h0M696.15 549.27h0M698.86 582.32h0M701.57 616.03h0M704.28 579.67h0M706.99 567.44h0M709.70 587.27h0M712.41 581.99h0M715.12 580.00h0M717.83 569.10h0M720.54 562.82h0M723.25 570.75h0M725.96 567.78h0M728.67 573.39h0M731.38 567.11h0M734.09 588.93h0M736.80 592.23h0M739.51 589.92h0M742.22 590.91h0M744.93 582.32h0M747.64 595.87h0M750.35 556.87h0M753.06 575.38h0M755.77 608.10h0M758.48 584.96h0M761.19 598.18h0M763.90 604.13h0M766.61 591.57h0M769.32 592.23h0M772.03 598.18h0M774.74 619.66h0M777.45 628.26h0M780.16 600.49h0M782.87 585.29h0M785.58 593.88h0M788.28 574.39h0M790.99 572.40h0M793.70 568.77h0M796.41 559.18h0M799.12 560.17h0M801.83 563.15h0M804.54 566.45h0M807.25 556.54h0M809.96 562.16h0M812.67 561.17h0M815.38 560.17h0M818.09 554.23h0M820.80 568.44h0M823.51 566.12h0M826.22 577.36h0M828.93 570.75h0M831.64 575.71h0M834.35 574.39h0M837.06 567.44h0M839.77 574.72h0M842.48 579.34h0M845.19 605.45h0M847.90 607.77h0M850.61 623.30h0M853.32 644.78h0M856.03 632.55h0M858.74 606.77h0M861.45 607.44h0M864.16 574.72h0M866.87 575.71h0M869.58 568.77h0M872.29 583.31h0M875.00 575.71h0M877.71 568.11h0M880.42 562.49h0M883.13 584.30h0M885.84 569.76h0M888.55 573.39h0M891.26 570.42h0M893.97 583.31h0M896.68 587.27h0M899.39 581.33h0M902.10 576.70h0M904.81 590.25h0M907.52 587.27h0M910.23 588.27h0M912.94 583.31h0M915.65 584.63h0M918.36 592.56h0M921.07 601.49h0M923.78 580.66h0M926.49 610.41h0M929.20 606.77h0M931.91 609.09h0M934.62 576.70h0M937.33 580.66h0M940.03 582.98h0M942.74 597.85h0M945.45 595.87h0M948.16 587.61h0M950.87 587.27h0M953.58 572.40h0M956.29 574.72h0M959.00 567.78h0M961.71 567.44h0M964.42 528.78h0M967.13 599.83h0M969.84 611.07h0M972.55 566.78h0M975.26 569.43h0M977.97 579.34h0M980.68 591.90h0M983.39 580.00h0M986.10 587.27h0M988.81 567.78h0M991.52 563.81h0M994.23 580.00h0M996.94 568.77h0M999.65 566.12h0M1002.36 566.12h0M1005.07 558.52h0M1007.78 552.24h0M1010.49 532.41h0M1013.20 553.23h0M1015.91 546.29h0M1018.62 534.39h0M1021.33 534.39h0M1024.04 508.29h0M1026.75 514.57h0M1029.46 507.62h0M1032.17 503.99h0M1034.88 510.60h0M1037.59 515.23h0M1040.30 523.16h0M1043.01 528.45h0M1045.72 536.38h0M1048.43 521.84h0M1051.14 533.73h0M1053.85 546.62h0M1056.56 542.99h0M1059.27 558.19h0M1061.98 550.59h0M1064.69 547.62h0M1067.40 556.87h0M1070.11 549.60h0M1072.82 537.70h0M1075.53 546.95h0M1078.24 570.42h0M1080.95 561.50h0M1083.66 586.61h0M1086.37 540.01h0M1089.08 548.94h0M1091.78 536.71h0M1094.49 532.41h0M1097.20 542.00h0M1099.91 537.70h0M1102.62 536.05h0M1105.33 548.28h0M1108.04 542.99h0M1110.75 538.69h0M1113.46 557.53h0M1116.17 564.14h0M1118.88 564.47h0M1121.59 554.56h0M1124.30 557.53h0M1127.01 560.17h0M1129.72 569.43h0M1132.43 584.63h0M1135.14 555.55h0M1137.85 580.33h0M1140.56 562.16h0M1143.27 574.72h0M1145.98 587.94h0M1148.69 586.94h0M1151.40 580.00h0M1154.11 619.00h0M1156.82 626.93h0M1159.53 613.72h0M1162.24 586.94h0M1164.95 582.65h0M1167.66 596.20h0M1170.37 592.56h0M1173.08 601.49h0M1175.79 590.91h0M1178.50 579.34h0M1181.21 571.74h0M1183.92 576.37h0M1186.63 582.65h0M1189.34 577.36h0M1192.05 590.25h0M1194.76 579.67h0M1197.47 588.93h0M1200.18 609.09h0M1202.89 613.05h0M1205.60 609.75h0M1208.31 613.05h0M1211.02 610.08h0M1213.73 604.46h0M1216.44 592.89h0M1219.15 590.25h0M1221.86 585.95h0M1224.57 580.33h0M1227.28 576.70h0M1229.99 605.45h0M1232.70 637.18h0M1235.41 628.26h0M1238.12 610.74h0M1240.83 575.38h0M1243.53 579.34h0M1246.24 589.59h0M1248.95 598.51h0M1251.66 602.15h0M1254.37 593.88h0M1257.08 585.95h0M1259.79 511.26h0M1262.50 580.66h0M1265.21 581.33h0M1267.92 593.22h0M1270.63 564.14h0M1273.34 597.52h0M1276.05 586.28h0M1278.76 569.43h0M1281.47 569.43h0M1284.18 545.63h0M1286.89 578.35h0M1289.60 542.00h0M1292.31 543.65h0M1295.02 544.97h0M1297.73 554.56h0M1300.44 560.50h0M1303.15 547.95h0M1305.86 548.94h0M1308.57 600.49h0M1311.28 530.76h0M1313.99 551.25h0M1316.70 540.34h0M1319.41 542.66h0M1322.12 534.39h0M1324.83 536.38h0M1327.54 546.95h0M1330.25 538.69h0M1332.96 541.01h0M1335.67 557.53h0M1338.38 554.56h0M1341.09 538.36h0M1343.80 539.68h0M1346.51 509.61h0M1349.22 533.40h0M1351.93 506.96h0M1354.64 500.68h0M1357.35 491.10h0M1360.06 464.99h0M1362.77 487.13h0M1365.48 487.13h0M1368.19 490.44h0M1370.90 497.71h0M1373.61 521.17h0M1376.32 516.22h0M1379.03 516.88h0M1381.74 539.35h0M1384.45 588.27h0M1387.16 540.34h0M1389.87 537.37h0M1392.58 515.23h0M1395.28 507.29h0M1397.99 504.65h0M1400.70 509.28h0M1403.41 513.24h0M1406.12 515.23h0M1408.83 507.62h0M1411.54 514.23h0M1414.25 513.57h0M1416.96 534.73h0M1419.67 538.36h0M1422.38 533.40h0M1425.09 528.12h0M1427.80 543.32h0M1430.51 554.89h0M1433.22 556.54h0M1435.93 559.51h0M1438.64 553.56h0M1441.35 561.17h0M1444.06 554.89h0M1446.77 572.07h0M1449.48 564.14h0M1452.19 566.45h0M1454.90 577.69h0M1457.61 586.28h0M1460.32 555.55h0M1463.03 585.29h0M1465.74 574.39h0M1468.45 584.96h0M1471.16 548.94h0M1473.87 548.61h0M1476.58 545.63h0M1479.29 542.00h0M1482.00 549.60h0M1484.71 551.91h0M1487.42 546.95h0M1490.13 448.13h0M1492.84 549.60h0M1495.55 561.83h0M1498.26 561.17h0M1500.97 554.56h0M1503.68 516.22h0M1506.39 523.82h0M1509.10 566.12h0M1511.81 585.29h0M1514.52 575.71h0M1517.23 579.34h0M1519.94 565.13h0M1522.65 565.13h0M1525.36 560.50h0M1528.07 542.99h0M1530.78 547.28h0M1533.49 548.28h0M1536.20 598.51h0M1538.91 638.17h0M1541.62 629.58h0M1544.33 581.66h0M1547.03 576.04h0M1549.74 580.00h0M1552.45 569.43h0M1555.16 573.72h0M1557.87 576.70h0M1560.58 578.68h0M1563.29 600.16h0M1566.00 591.90h0M1568.71 573.72h0M1571.42 581.33h0M1574.13 563.15h0M1576.84 572.07h0M1579.55 572.07h0M1582.26 553.23h0M1584.97 564.80h0M1587.68 542.00h0M1590.39 528.12h0M1593.10 521.51h0M1595.81 509.61h0M1598.52 515.89h0M1601.23 538.69h0M1603.94 529.77h0M1606.65 471.60h0M1609.36 522.83h0M1612.07 533.40h0M1614.78 538.69h0" stroke="#000" stroke-width="5.6" stroke-linecap="round" fill="none"/>
</g>
<rect x="102.7" y="405.5" width="1517.50" height="330.50" fill="none" stroke="#525252" stroke-width="1.3"/>
<text x="84.3" y="745.20" text-anchor="end" class="s">−15</text>
<text x="84.3" y="679.10" text-anchor="end" class="s">−14</text>
<text x="84.3" y="613.00" text-anchor="end" class="s">−13</text>
<text x="84.3" y="546.90" text-anchor="end" class="s">−12</text>
<text x="84.3" y="480.80" text-anchor="end" class="s">−11</text>
<text x="84.3" y="414.70" text-anchor="end" class="s">−10</text>
<text x="117.2" y="444.60" class="s" style="font-size:30.5px">(b)</text>
<g transform="translate(22.8 651.25) rotate(-90)">
<text x="0" y="0" class="d">T<tspan class="sub" dy="4.2">brightness</tspan><tspan class="s" dy="-4.2"> (°C)</tspan></text>
<path d="M-0.1 -22.3H16.1" stroke="#000" stroke-width="1.6"/>
</g>
<text x="102.70" y="772.3" text-anchor="middle" class="s">0</text>
<text x="373.68" y="772.3" text-anchor="middle" class="s">100</text>
<text x="644.66" y="772.3" text-anchor="middle" class="s">200</text>
<text x="915.65" y="772.3" text-anchor="middle" class="s">300</text>
<text x="1186.63" y="772.3" text-anchor="middle" class="s">400</text>
<text x="1457.61" y="772.3" text-anchor="middle" class="s">500</text>
<text x="799.6" y="805.8" class="d">Index<tspan class="sub" dy="4.2">image</tspan></text>
<path d="M1833.25 41.6V735.5M1909.10 41.6V735.5M1984.95 41.6V735.5M1757.4 648.76H2060.8M1757.4 562.02H2060.8M1757.4 475.29H2060.8M1757.4 388.55H2060.8M1757.4 301.81H2060.8M1757.4 215.08H2060.8M1757.4 128.34H2060.8" stroke="#525252" stroke-width="1.3" fill="none"/>
<g clip-path="url(#cc)">
<path d="M1757.40 735.50 L1758.67 735.39 L1759.94 735.27 L1761.21 735.15 L1762.48 735.04 L1763.75 734.93 L1765.02 734.83 L1766.29 734.72 L1767.56 734.61 L1768.83 734.49 L1770.09 734.34 L1771.36 734.18 L1772.63 733.98 L1773.90 733.71 L1775.17 733.40 L1776.44 733.03 L1777.71 732.62 L1778.98 732.18 L1780.25 731.71 L1781.52 731.22 L1782.79 730.69 L1784.06 730.10 L1785.33 729.43 L1786.60 728.71 L1787.87 727.95 L1789.14 727.14 L1790.41 726.29 L1791.68 725.43 L1792.94 724.51 L1794.21 723.54 L1795.48 722.50 L1796.75 721.40 L1798.02 720.25 L1799.29 719.05 L1800.56 717.79 L1801.83 716.48 L1803.10 715.08 L1804.37 713.59 L1805.64 712.01 L1806.91 710.36 L1808.18 708.65 L1809.45 706.88 L1810.72 705.06 L1811.99 703.18 L1813.26 701.20 L1814.53 699.13 L1815.79 696.97 L1817.06 694.76 L1818.33 692.49 L1819.60 690.20 L1820.87 687.89 L1822.14 685.57 L1823.41 683.22 L1824.68 680.83 L1825.95 678.37 L1827.22 675.82 L1828.49 673.15 L1829.76 670.32 L1831.03 667.30 L1832.30 664.16 L1833.57 660.97 L1834.84 657.74 L1836.11 654.42 L1837.38 651.00 L1838.65 647.45 L1839.91 643.81 L1841.18 640.04 L1842.45 636.09 L1843.72 631.89 L1844.99 627.39 L1846.26 622.64 L1847.53 617.70 L1848.80 612.64 L1850.07 607.36 L1851.34 601.91 L1852.61 596.37 L1853.88 590.79 L1855.15 585.15 L1856.42 579.41 L1857.69 573.60 L1858.96 567.67 L1860.23 561.59 L1861.50 555.57 L1862.76 549.81 L1864.03 544.15 L1865.30 538.24 L1866.57 531.99 L1867.84 525.62 L1869.11 519.16 L1870.38 512.64 L1871.65 506.25 L1872.92 500.16 L1874.19 494.21 L1875.46 488.46 L1876.73 483.02 L1878.00 477.93 L1879.27 473.04 L1880.54 468.41 L1881.81 464.14 L1883.08 460.28 L1884.35 456.49 L1885.62 452.91 L1886.88 449.82 L1888.15 447.48 L1889.42 445.83 L1890.69 444.27 L1891.96 442.84 L1893.23 441.57 L1894.50 440.52 L1895.77 439.73 L1897.04 439.25 L1898.31 439.12 L1899.58 439.37 L1900.85 439.92 L1902.12 440.72 L1903.39 441.70 L1904.66 442.80 L1905.93 443.94 L1907.20 445.24 L1908.47 446.93 L1909.73 448.92 L1911.00 451.14 L1912.27 453.53 L1913.54 456.00 L1914.81 458.49 L1916.08 461.03 L1917.35 463.77 L1918.62 466.66 L1919.89 469.69 L1921.16 472.80 L1922.43 475.96 L1923.70 479.14 L1924.97 482.35 L1926.24 485.62 L1927.51 488.97 L1928.78 492.39 L1930.05 495.86 L1931.32 499.39 L1932.58 502.96 L1933.85 506.57 L1935.12 510.23 L1936.39 513.96 L1937.66 517.81 L1938.93 521.79 L1940.20 526.00 L1941.47 530.57 L1942.74 535.21 L1944.01 539.60 L1945.28 543.58 L1946.55 547.35 L1947.82 551.02 L1949.09 554.60 L1950.36 558.08 L1951.63 561.56 L1952.90 565.15 L1954.17 568.86 L1955.44 572.63 L1956.70 576.48 L1957.97 580.40 L1959.24 584.43 L1960.51 588.54 L1961.78 592.68 L1963.05 596.79 L1964.32 600.95 L1965.59 605.10 L1966.86 609.18 L1968.13 613.14 L1969.40 617.01 L1970.67 620.81 L1971.94 624.52 L1973.21 628.14 L1974.48 631.64 L1975.75 635.08 L1977.02 638.53 L1978.29 642.02 L1979.55 645.54 L1980.82 648.99 L1982.09 652.35 L1983.36 655.66 L1984.63 658.84 L1985.90 661.86 L1987.17 664.79 L1988.44 667.63 L1989.71 670.37 L1990.98 673.01 L1992.25 675.56 L1993.52 678.02 L1994.79 680.41 L1996.06 682.75 L1997.33 685.05 L1998.60 687.34 L1999.87 689.60 L2001.14 691.83 L2002.41 694.02 L2003.67 696.16 L2004.94 698.23 L2006.21 700.23 L2007.48 702.18 L2008.75 704.09 L2010.02 705.94 L2011.29 707.74 L2012.56 709.48 L2013.83 711.17 L2015.10 712.85 L2016.37 714.48 L2017.64 716.05 L2018.91 717.53 L2020.18 718.89 L2021.45 720.15 L2022.72 721.35 L2023.99 722.49 L2025.26 723.56 L2026.52 724.57 L2027.79 725.52 L2029.06 726.42 L2030.33 727.31 L2031.60 728.14 L2032.87 728.90 L2034.14 729.56 L2035.41 730.11 L2036.68 730.60 L2037.95 731.06 L2039.22 731.48 L2040.49 731.86 L2041.76 732.21 L2043.03 732.52 L2044.30 732.79 L2045.57 733.02 L2046.84 733.25 L2048.11 733.48 L2049.37 733.69 L2050.64 733.90 L2051.91 734.09 L2053.18 734.27 L2054.45 734.43 L2055.72 734.57 L2056.99 734.69 L2058.26 734.79 L2059.53 734.85 L2060.80 734.89Z" fill="#747474" stroke="#747474" stroke-width="1"/>
<path d="M1829.46 735.50 L1830.11 735.48 L1830.76 735.42 L1831.41 735.34 L1832.06 735.22 L1832.71 735.07 L1833.36 734.91 L1834.01 734.72 L1834.66 734.52 L1835.31 734.31 L1835.96 734.09 L1836.61 733.83 L1837.26 733.50 L1837.92 733.11 L1838.57 732.65 L1839.22 732.13 L1839.87 731.55 L1840.52 730.91 L1841.17 730.20 L1841.82 729.44 L1842.47 728.55 L1843.12 727.36 L1843.77 725.92 L1844.42 724.27 L1845.07 722.47 L1845.72 720.55 L1846.37 718.57 L1847.02 716.56 L1847.67 714.43 L1848.32 712.10 L1848.98 709.61 L1849.63 706.99 L1850.28 704.24 L1850.93 701.40 L1851.58 698.49 L1852.23 695.51 L1852.88 692.34 L1853.53 689.02 L1854.18 685.57 L1854.83 682.01 L1855.48 678.37 L1856.13 674.67 L1856.78 670.88 L1857.43 666.96 L1858.08 662.92 L1858.73 658.73 L1859.38 654.38 L1860.04 649.78 L1860.69 644.96 L1861.34 640.00 L1861.99 634.97 L1862.64 629.95 L1863.29 624.97 L1863.94 619.98 L1864.59 614.96 L1865.24 609.90 L1865.89 604.77 L1866.54 599.56 L1867.19 594.26 L1867.84 588.88 L1868.49 583.43 L1869.14 577.91 L1869.79 572.34 L1870.45 566.72 L1871.10 561.17 L1871.75 555.64 L1872.40 549.96 L1873.05 543.91 L1873.70 537.30 L1874.35 529.91 L1875.00 521.98 L1875.65 513.86 L1876.30 505.84 L1876.95 497.52 L1877.60 489.10 L1878.25 481.03 L1878.90 473.79 L1879.55 467.59 L1880.20 461.96 L1880.85 456.34 L1881.51 450.17 L1882.16 442.89 L1882.81 434.42 L1883.46 425.13 L1884.11 415.39 L1884.76 405.59 L1885.41 396.12 L1886.06 387.34 L1886.71 379.16 L1887.36 371.28 L1888.01 363.50 L1888.66 355.64 L1889.31 347.63 L1889.96 339.61 L1890.61 331.80 L1891.26 324.42 L1891.91 317.67 L1892.57 311.41 L1893.22 305.18 L1893.87 298.50 L1894.52 291.43 L1895.17 284.32 L1895.82 277.48 L1896.47 270.83 L1897.12 264.21 L1897.77 257.49 L1898.42 250.71 L1899.07 243.93 L1899.72 237.20 L1900.37 230.43 L1901.02 223.72 L1901.67 217.21 L1902.32 210.94 L1902.97 204.73 L1903.63 198.72 L1904.28 193.06 L1904.93 187.89 L1905.58 182.67 L1906.23 177.57 L1906.88 173.18 L1907.53 170.07 L1908.18 168.34 L1908.83 166.84 L1909.48 165.50 L1910.13 164.34 L1910.78 163.41 L1911.43 162.71 L1912.08 162.29 L1912.73 162.17 L1913.38 162.49 L1914.04 163.29 L1914.69 164.49 L1915.34 166.00 L1915.99 167.75 L1916.64 169.66 L1917.29 172.58 L1917.94 176.76 L1918.59 181.67 L1919.24 186.82 L1919.89 191.82 L1920.54 197.01 L1921.19 202.57 L1921.84 208.57 L1922.49 215.13 L1923.14 222.70 L1923.79 231.23 L1924.44 240.03 L1925.10 248.72 L1925.75 257.69 L1926.40 267.42 L1927.05 278.68 L1927.70 290.99 L1928.35 302.81 L1929.00 313.29 L1929.65 324.36 L1930.30 338.04 L1930.95 352.15 L1931.60 363.55 L1932.25 372.77 L1932.90 381.56 L1933.55 391.53 L1934.20 403.42 L1934.85 416.31 L1935.50 429.07 L1936.16 440.58 L1936.81 449.79 L1937.46 457.06 L1938.11 463.44 L1938.76 469.85 L1939.41 477.17 L1940.06 485.10 L1940.71 493.55 L1941.36 502.78 L1942.01 513.19 L1942.66 525.54 L1943.31 538.87 L1943.96 551.95 L1944.61 564.51 L1945.26 575.98 L1945.91 584.44 L1946.56 591.57 L1947.22 598.09 L1947.87 604.70 L1948.52 611.51 L1949.17 618.19 L1949.82 624.51 L1950.47 630.26 L1951.12 635.57 L1951.77 640.58 L1952.42 645.36 L1953.07 649.99 L1953.72 654.54 L1954.37 659.04 L1955.02 663.44 L1955.67 667.74 L1956.32 671.93 L1956.97 675.97 L1957.62 679.88 L1958.28 683.67 L1958.93 687.38 L1959.58 690.97 L1960.23 694.41 L1960.88 697.67 L1961.53 700.70 L1962.18 703.58 L1962.83 706.32 L1963.48 708.92 L1964.13 711.40 L1964.78 713.74 L1965.43 716.00 L1966.08 718.25 L1966.73 720.41 L1967.38 722.41 L1968.03 724.17 L1968.69 725.61 L1969.34 726.85 L1969.99 728.03 L1970.64 729.13 L1971.29 730.12 L1971.94 730.99 L1972.59 731.70 L1973.24 732.25 L1973.89 732.64 L1974.54 732.96 L1975.19 733.26 L1975.84 733.52 L1976.49 733.75 L1977.14 733.97 L1977.79 734.16 L1978.44 734.33 L1979.09 734.49 L1979.75 734.64 L1980.40 734.78 L1981.05 734.91 L1981.70 735.03 L1982.35 735.15 L1983.00 735.26 L1983.65 735.35 L1984.30 735.43 L1984.95 735.50Z" fill="#dadada" fill-opacity="0.8" stroke="#e6e6e6" stroke-opacity="0.9" stroke-width="1.4"/>
</g>
<rect x="1757.4" y="41.6" width="303.40" height="693.90" fill="none" stroke="#525252" stroke-width="1.3"/>
<text x="1738.5" y="744.70" text-anchor="end" class="s">0.0</text>
<text x="1738.5" y="657.96" text-anchor="end" class="s">0.1</text>
<text x="1738.5" y="571.23" text-anchor="end" class="s">0.2</text>
<text x="1738.5" y="484.49" text-anchor="end" class="s">0.3</text>
<text x="1738.5" y="397.75" text-anchor="end" class="s">0.4</text>
<text x="1738.5" y="311.01" text-anchor="end" class="s">0.5</text>
<text x="1738.5" y="224.28" text-anchor="end" class="s">0.6</text>
<text x="1738.5" y="137.54" text-anchor="end" class="s">0.7</text>
<text x="1738.5" y="50.80" text-anchor="end" class="s">0.8</text>
<text x="1757.40" y="772.0" text-anchor="middle" class="s">−4</text>
<text x="1833.25" y="772.0" text-anchor="middle" class="s">−2</text>
<text x="1909.10" y="772.0" text-anchor="middle" class="s">0</text>
<text x="1984.95" y="772.0" text-anchor="middle" class="s">2</text>
<text x="2060.80" y="772.0" text-anchor="middle" class="s">4</text>
<text x="1771.6" y="77.9" class="s" style="font-size:30.5px">(c)</text>
<rect x="1834.7" y="63.2" width="51.7" height="19.8" fill="#747474"/>
<rect x="1834.7" y="98.6" width="51.7" height="19.6" fill="#dadada" fill-opacity="0.8" stroke="#e2e2e2" stroke-width="1"/>
<text x="1905.2" y="82.3" class="s">uncorrected</text>
<text x="1905.6" y="116.9" class="s">corrected</text>
<text transform="translate(1691 433.35) rotate(-90)" class="s">Density</text>
<text x="1837.3" y="806.0" class="d">T<tspan class="sub" dy="4.2">anomaly</tspan><tspan class="s" dy="-4.2"> (°C)</tspan></text>
<path d="M124.8 14.5H175.5" stroke="#000" stroke-width="1.3"/>
<circle cx="150.1" cy="14.5" r="2.8" fill="#000"/>
<text x="195.3" y="23.0" class="d">T<tspan class="sub" dy="3.9">brightness</tspan></text>
<path d="M195.40 0.4H211.80" stroke="#000" stroke-width="1.5"/>
<circle cx="379.4" cy="16.5" r="8.8" fill="#d63f4f" stroke="#000" stroke-width="1.5"/>
<text x="424.8" y="23.0" class="d">T<tspan class="sub" dy="3.9">brightness</tspan><tspan class="s" dy="-3.9"> before NUC event</tspan></text>
<path d="M424.90 0.4H441.30" stroke="#000" stroke-width="1.5"/>
<circle cx="816.5" cy="14.7" r="9.9" fill="#fee08b" stroke="#000" stroke-width="1.5"/>
<text x="862.4" y="23.0" class="d">T<tspan class="sub" dy="3.9">brightness</tspan><tspan class="s" dy="-3.9"> after NUC event</tspan></text>
<path d="M862.50 0.4H878.90" stroke="#000" stroke-width="1.5"/>
<circle cx="1233.5" cy="16.5" r="8.8" fill="#4676b7" stroke="#000" stroke-width="1.5"/>
<text x="1277.4" y="23.0" class="s">Not a NUC event</text>
</svg>
</body></html>
